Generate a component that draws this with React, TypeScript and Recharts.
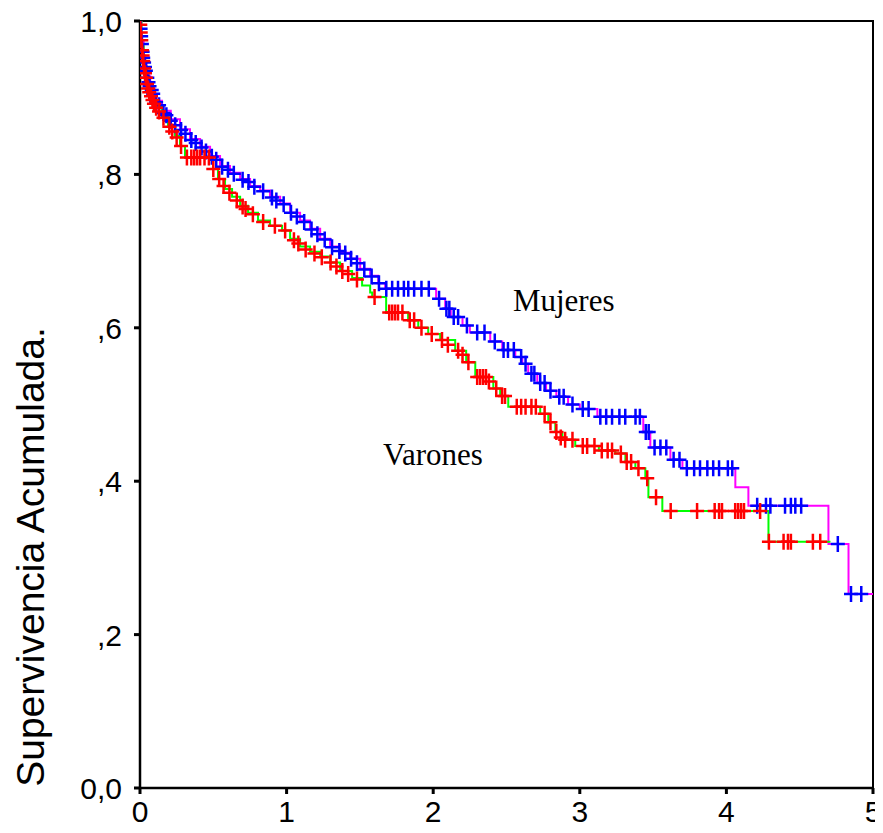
import React from 'react';
import { ComposedChart, Line, Scatter, XAxis, YAxis, ReferenceArea } from 'recharts';

// Kaplan-Meier step curves: [years, cumulative survival]
const mujeresSteps: [number, number][] = [
  [0, 1.0], [0.01, 0.974], [0.025, 0.948], [0.045, 0.928], [0.07, 0.911], [0.1, 0.896],
  [0.15, 0.883], [0.21, 0.872], [0.273, 0.859], [0.341, 0.846], [0.41, 0.836], [0.478, 0.824],
  [0.546, 0.811], [0.614, 0.802], [0.683, 0.794], [0.751, 0.785], [0.819, 0.779], [0.887, 0.771],
  [0.956, 0.762], [1.024, 0.75], [1.092, 0.74], [1.16, 0.729], [1.229, 0.716], [1.297, 0.706],
  [1.365, 0.698], [1.433, 0.69], [1.502, 0.677], [1.57, 0.668], [1.625, 0.658], [1.672, 0.651],
  [2.02, 0.638], [2.082, 0.625], [2.12, 0.614], [2.2, 0.603], [2.25, 0.594], [2.389, 0.582],
  [2.471, 0.571], [2.56, 0.562], [2.608, 0.553], [2.648, 0.54], [2.71, 0.528], [2.77, 0.518],
  [2.84, 0.51], [2.92, 0.5], [3.0, 0.494], [3.12, 0.484], [3.433, 0.464], [3.481, 0.444],
  [3.618, 0.428], [3.7, 0.417], [4.061, 0.392], [4.15, 0.368], [4.696, 0.318], [4.833, 0.253],
  [5.0, 0.253],
];

const varonesSteps: [number, number][] = [
  [0, 1.0], [0.01, 0.967], [0.025, 0.941], [0.045, 0.919], [0.07, 0.902], [0.1, 0.889],
  [0.15, 0.876], [0.191, 0.863], [0.239, 0.85], [0.273, 0.837], [0.307, 0.822], [0.498, 0.807],
  [0.532, 0.794], [0.58, 0.781], [0.628, 0.771], [0.683, 0.759], [0.737, 0.75], [0.805, 0.74],
  [0.887, 0.733], [0.969, 0.727], [1.024, 0.716], [1.092, 0.706], [1.16, 0.699], [1.229, 0.693],
  [1.297, 0.685], [1.365, 0.674], [1.447, 0.665], [1.515, 0.655], [1.57, 0.646], [1.584, 0.64],
  [1.679, 0.62], [1.829, 0.61], [1.898, 0.6], [1.966, 0.592], [2.048, 0.584], [2.15, 0.57],
  [2.225, 0.555], [2.287, 0.536], [2.41, 0.521], [2.457, 0.511], [2.512, 0.497], [2.73, 0.488],
  [2.785, 0.477], [2.833, 0.464], [2.881, 0.454], [2.969, 0.446], [3.13, 0.44], [3.242, 0.436],
  [3.311, 0.425], [3.379, 0.417], [3.447, 0.404], [3.468, 0.379], [3.563, 0.361], [4.287, 0.321],
  [4.71, 0.321],
];

// Censored observations (+ marks)
const mujeresCensored: [number, number][] = [
  [0.004, 0.99], [0.008, 0.98], [0.013, 0.97], [0.018, 0.96], [0.022, 0.952], [0.028, 0.946],
  [0.034, 0.94], [0.04, 0.935], [0.05, 0.926], [0.058, 0.92], [0.065, 0.915], [0.08, 0.91],
  [0.09, 0.905], [0.11, 0.894], [0.13, 0.89], [0.16, 0.88], [0.18, 0.877], [0.21, 0.87],
  [0.24, 0.864], [0.28, 0.858], [0.31, 0.853], [0.35, 0.845], [0.38, 0.841], [0.42, 0.835],
  [0.45, 0.83], [0.49, 0.823], [0.52, 0.819], [0.56, 0.81], [0.6, 0.806], [0.64, 0.801],
  [0.7, 0.793], [0.74, 0.79], [0.78, 0.784], [0.84, 0.778], [0.9, 0.77], [0.93, 0.766],
  [0.98, 0.761], [1.03, 0.75], [1.07, 0.745], [1.12, 0.738], [1.17, 0.728], [1.21, 0.722],
  [1.26, 0.715], [1.31, 0.705], [1.36, 0.7], [1.4, 0.697], [1.44, 0.69], [1.48, 0.684],
  [1.53, 0.676], [1.58, 0.667], [1.63, 0.658], [1.68, 0.651], [1.72, 0.651], [1.76, 0.651],
  [1.8, 0.651], [1.83, 0.651], [1.87, 0.651], [1.92, 0.651], [1.97, 0.651], [2.04, 0.638],
  [2.09, 0.625], [2.11, 0.625], [2.14, 0.614], [2.17, 0.614], [2.23, 0.603], [2.3, 0.594],
  [2.35, 0.594], [2.42, 0.582], [2.48, 0.571], [2.51, 0.571], [2.55, 0.571], [2.6, 0.562],
  [2.63, 0.553], [2.67, 0.54], [2.69, 0.54], [2.73, 0.528], [2.76, 0.528], [2.8, 0.518],
  [2.86, 0.51], [2.89, 0.51], [2.95, 0.5], [3.02, 0.494], [3.06, 0.494], [3.14, 0.484],
  [3.18, 0.484], [3.22, 0.484], [3.27, 0.484], [3.31, 0.484], [3.38, 0.484], [3.41, 0.484],
  [3.45, 0.464], [3.47, 0.464], [3.51, 0.444], [3.55, 0.444], [3.59, 0.444], [3.64, 0.428],
  [3.68, 0.428], [3.73, 0.417], [3.78, 0.417], [3.82, 0.417], [3.87, 0.417], [3.91, 0.417],
  [3.95, 0.417], [4.01, 0.417], [4.04, 0.417], [4.21, 0.368], [4.27, 0.368], [4.3, 0.368],
  [4.4, 0.368], [4.44, 0.368], [4.47, 0.368], [4.51, 0.368], [4.76, 0.318], [4.85, 0.253],
  [4.92, 0.253],
];

const varonesCensored: [number, number][] = [
  [0.002, 0.995], [0.005, 0.985], [0.009, 0.975], [0.014, 0.962], [0.018, 0.955], [0.022, 0.948],
  [0.028, 0.938], [0.034, 0.932], [0.04, 0.926], [0.048, 0.918], [0.055, 0.912], [0.063, 0.907],
  [0.075, 0.902], [0.085, 0.897], [0.095, 0.892], [0.11, 0.887], [0.13, 0.882], [0.16, 0.874],
  [0.2, 0.862], [0.22, 0.856], [0.25, 0.848], [0.28, 0.837], [0.32, 0.822], [0.35, 0.822],
  [0.37, 0.822], [0.39, 0.822], [0.41, 0.822], [0.44, 0.822], [0.47, 0.822], [0.5, 0.807],
  [0.54, 0.794], [0.57, 0.785], [0.61, 0.776], [0.66, 0.766], [0.7, 0.758], [0.72, 0.755],
  [0.77, 0.748], [0.84, 0.738], [0.92, 0.733], [0.99, 0.727], [1.05, 0.714], [1.08, 0.71],
  [1.13, 0.702], [1.19, 0.697], [1.24, 0.692], [1.3, 0.685], [1.34, 0.68], [1.38, 0.674],
  [1.42, 0.67], [1.48, 0.663], [1.6, 0.64], [1.7, 0.62], [1.72, 0.62], [1.74, 0.62],
  [1.76, 0.62], [1.79, 0.62], [1.84, 0.61], [1.87, 0.61], [1.92, 0.6], [1.99, 0.592],
  [2.06, 0.584], [2.1, 0.578], [2.17, 0.57], [2.2, 0.565], [2.24, 0.555], [2.3, 0.536],
  [2.32, 0.536], [2.34, 0.536], [2.36, 0.536], [2.38, 0.53], [2.43, 0.521], [2.47, 0.511],
  [2.49, 0.511], [2.57, 0.497], [2.6, 0.497], [2.63, 0.497], [2.67, 0.497], [2.7, 0.497],
  [2.76, 0.488], [2.8, 0.477], [2.84, 0.464], [2.87, 0.457], [2.9, 0.454], [2.95, 0.454],
  [3.02, 0.446], [3.05, 0.446], [3.1, 0.446], [3.15, 0.44], [3.19, 0.44], [3.22, 0.44],
  [3.28, 0.436], [3.32, 0.425], [3.35, 0.425], [3.4, 0.417], [3.46, 0.404], [3.52, 0.379],
  [3.62, 0.361], [3.8, 0.361], [3.92, 0.361], [3.95, 0.361], [3.97, 0.361], [4.06, 0.361],
  [4.08, 0.361], [4.1, 0.361], [4.12, 0.361], [4.23, 0.361], [4.29, 0.321], [4.39, 0.321],
  [4.42, 0.321], [4.44, 0.321], [4.59, 0.321], [4.64, 0.321],
];

const annotations = [
  { t: 2.544, s: 0.622, label: 'Mujeres' },
  { t: 1.658, s: 0.421, label: 'Varones' },
];

const xTicks = [0, 1, 2, 3, 4, 5];
const xTickLabels = ['0', '1', '2', '3', '4', '5'];
const yTicks = [0, 0.2, 0.4, 0.6, 0.8, 1.0];
const yTickLabels = ['0,0', ',2', ',4', ',6', ',8', '1,0'];
const yAxisTitle = 'Supervivencia Acumulada.';

const toPts = (arr: [number, number][]) => arr.map(([t, s]) => ({ t, s }));

const SANS = 'Arial, "Liberation Sans", sans-serif';
const SERIF = '"Times New Roman", "Liberation Serif", serif';

const plusShape = (color: string) => (props: any) => {
  const { cx, cy } = props;
  if (cx == null || cy == null) return <g />;
  return (
    <path
      d={`M${cx - 7},${cy}H${cx + 7}M${cx},${cy - 8}V${cy + 8}`}
      stroke={color}
      strokeWidth={2.5}
      fill="none"
    />
  );
};

const textShape = (props: any) => {
  const { cx, cy, payload } = props;
  return (
    <text x={cx} y={cy} fontFamily={SERIF} fontSize={31} fill="#000" textAnchor="start">
      {payload.label}
    </text>
  );
};

const XTick = (props: any) => {
  const { x, y, payload } = props;
  const i = xTicks.indexOf(payload.value);
  return (
    <text x={x} y={y + 26} textAnchor="middle" fontFamily={SANS} fontSize={30} fill="#000">
      {xTickLabels[i]}
    </text>
  );
};

const YTick = (props: any) => {
  const { x, y, payload } = props;
  const i = yTicks.findIndex((v) => Math.abs(v - payload.value) < 1e-6);
  return (
    <text x={x} y={y + 11} textAnchor="end" fontFamily={SANS} fontSize={30} fill="#000">
      {yTickLabels[i]}
    </text>
  );
};

const YTitle = (props: any) => {
  const vb = props.viewBox || { x: 0, y: 21 };
  return (
    <text
      transform={`translate(${vb.x + 44}, ${vb.y + 536}) rotate(-90)`}
      textAnchor="middle"
      fontFamily={SANS}
      fontSize={39}
      fill="#000"
    >
      {yAxisTitle}
    </text>
  );
};

export default function App() {
  return (
    <div style={{ margin: '-8px 0 0 -8px', width: 883, height: 833, background: '#fff' }}>
      <ComposedChart
        width={883}
        height={833}
        margin={{ top: 21, right: 10, bottom: 0, left: 0 }}
      >
        <XAxis
          type="number"
          dataKey="t"
          domain={[0, 5]}
          ticks={xTicks}
          interval={0}
          height={45}
          tickSize={6}
          tickMargin={2}
          allowDataOverflow
          axisLine={{ stroke: '#000', strokeWidth: 2.5 }}
          tickLine={{ stroke: '#000', strokeWidth: 3 }}
          tick={XTick}
        />
        <YAxis
          type="number"
          dataKey="s"
          domain={[0, 1]}
          ticks={yTicks}
          interval={0}
          width={140}
          tickSize={6}
          tickMargin={12}
          allowDataOverflow
          axisLine={{ stroke: '#000', strokeWidth: 2.5 }}
          tickLine={{ stroke: '#000', strokeWidth: 3 }}
          tick={YTick}
          label={{ content: YTitle }}
        />
        <ReferenceArea x1={0} x2={5} y1={0} y2={1} fill="none" stroke="#000" strokeWidth={2} />
        <Line
          data={toPts(mujeresSteps)}
          dataKey="s"
          type="stepAfter"
          stroke="#ff00ff"
          strokeWidth={2}
          dot={false}
          activeDot={false}
          isAnimationActive={false}
        />
        <Line
          data={toPts(varonesSteps)}
          dataKey="s"
          type="stepAfter"
          stroke="#00ff00"
          strokeWidth={2}
          dot={false}
          activeDot={false}
          isAnimationActive={false}
        />
        <Scatter
          data={toPts(mujeresCensored)}
          dataKey="s"
          shape={plusShape('#0000ff')}
          isAnimationActive={false}
        />
        <Scatter
          data={toPts(varonesCensored)}
          dataKey="s"
          shape={plusShape('#ff0000')}
          isAnimationActive={false}
        />
        <Scatter data={annotations} dataKey="s" shape={textShape} isAnimationActive={false} />
      </ComposedChart>
    </div>
  );
}
